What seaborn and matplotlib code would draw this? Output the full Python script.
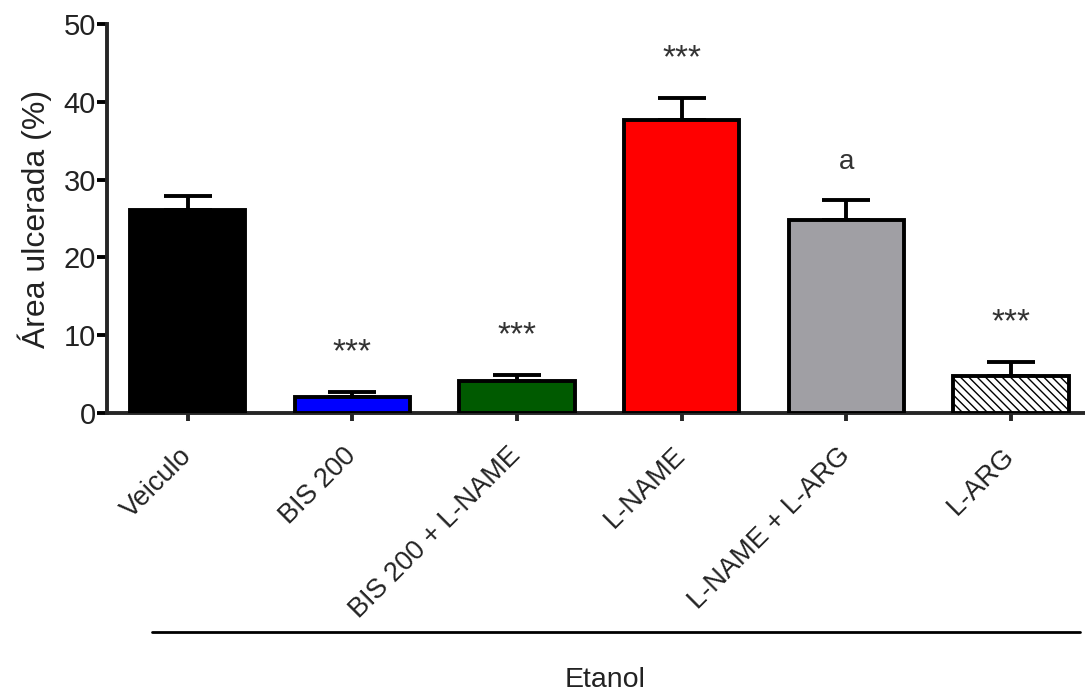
import pandas as pd
import numpy as np
import matplotlib.pyplot as plt
import seaborn as sns
from matplotlib.lines import Line2D

groups = ['Veiculo', 'BIS 200', 'BIS 200 + L-NAME', 'L-NAME', 'L-NAME + L-ARG', 'L-ARG']
means = [26.1, 2.1, 4.1, 37.7, 24.8, 4.8]
sem = [1.8, 0.6, 0.8, 2.8, 2.6, 1.8]
marks = ['', '***', '***', '***', 'a', '***']
colors = ['#000000', '#0000ff', '#005a00', '#ff0000', '#a09fa4', '#ffffff']

df = pd.DataFrame({'group': groups, 'area': means})

sns.set_style('ticks')
plt.rcParams['font.family'] = ['Liberation Sans', 'DejaVu Sans']
plt.rcParams['hatch.linewidth'] = 1.0

fig = plt.figure(figsize=(10.85, 6.95), dpi=100)
ax = fig.add_axes([0.0986, 0.4058, 0.9014, 0.5597])

sns.barplot(data=df, x='group', y='area', hue='group', palette=colors,
            order=groups, hue_order=groups, legend=False, errorbar=None,
            saturation=1, width=0.7, edgecolor='black', linewidth=2.8, ax=ax, zorder=3)
ax.patches[-1].set_hatch('\\\\\\\\')

x = np.arange(len(groups))
ax.errorbar(x, means, yerr=[np.zeros(len(sem)), sem], fmt='none',
            ecolor='black', elinewidth=2.8, capsize=17, capthick=2.8, zorder=2)

for xi, m, s, t in zip(x, means, sem, marks):
    if t == '***':
        ax.text(xi, m + s + 3.9, t, ha='center', va='baseline', fontsize=24, color='#333333')
    elif t:
        ax.text(xi, m + s + 4.8, t, ha='center', va='center', fontsize=20, color='#333333')

ax.set_ylim(0, 50)
ax.set_xlim(-0.49, 5.45)
ax.set_yticks([0, 10, 20, 30, 40, 50])
ax.set_ylabel('Área ulcerada (%)', fontsize=23, color='#222222', labelpad=8)
ax.set_xlabel('')
ax.tick_params(axis='y', labelsize=21, width=2.8, length=7, pad=1, colors='black', labelcolor='#222222')
ax.tick_params(axis='x', labelsize=19.5, width=2.8, length=6, pad=22, labelcolor='#222222')
plt.setp(ax.get_xticklabels(), rotation=45, ha='right', va='center', rotation_mode='anchor')
sns.despine(ax=ax)
for sp in ['left', 'bottom']:
    ax.spines[sp].set_linewidth(2.8)

fig.add_artist(Line2D([0.14, 0.995], [0.0906, 0.0906], color='black', lw=2,
                      transform=fig.transFigure))
fig.text(0.558, 0.022, 'Etanol', ha='center', va='center', fontsize=20.5, color='#222222')

plt.savefig('out.png', dpi=100)
